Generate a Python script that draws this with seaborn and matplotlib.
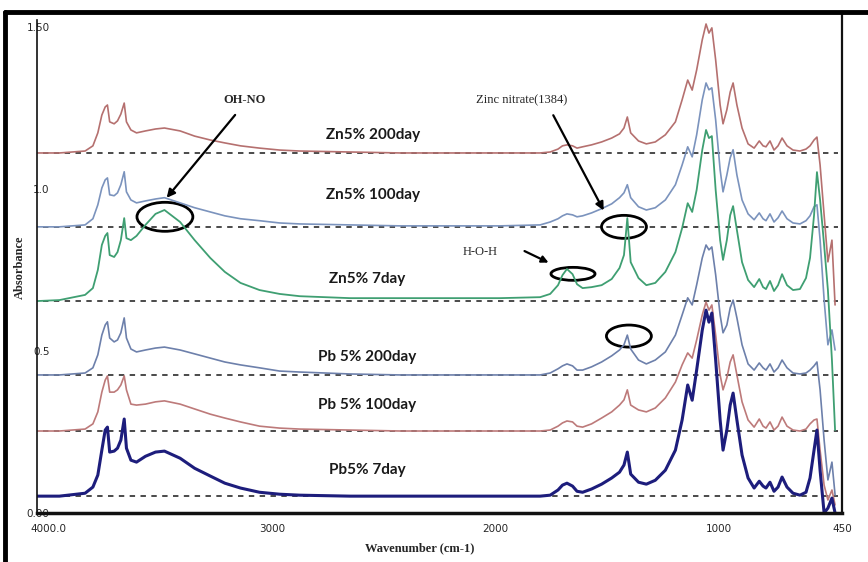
import numpy as np
import pandas as pd
import matplotlib
matplotlib.use('Agg')
import matplotlib.pyplot as plt
from matplotlib.patches import Ellipse
from matplotlib.lines import Line2D
import seaborn as sns

# Wavenumber grid (cm-1) shared by all spectra
wavenumber = [4050, 3950, 3835, 3800, 3778, 3760, 3745, 3735, 3725, 3705,
              3690, 3675, 3660, 3650, 3630, 3605, 3565, 3520, 3480, 3410,
              3345, 3275, 3210, 3140, 3055, 2965, 2875, 2650, 2425, 2200,
              1980, 1800, 1755, 1720, 1700, 1680, 1655, 1635, 1610, 1570,
              1525, 1480, 1445, 1425, 1410, 1395, 1360, 1325, 1285, 1240,
              1195, 1165, 1140, 1120, 1100, 1075, 1058, 1045, 1032, 1015,
              995, 982, 965, 950, 937, 920, 897, 870, 843, 820,
              803, 790, 772, 754, 736, 718, 696, 669, 638, 611,
              593, 575, 562, 548, 530, 513, 495, 481]

samples = ['Zn5% 200day', 'Zn5% 100day', 'Zn5% 7day',
           'Pb 5% 200day', 'Pb 5% 100day', 'Pb5% 7day']

# vertical offset of each stacked spectrum (dashed baselines)
offsets = [1.111, 0.883, 0.654, 0.426, 0.253, 0.052]

# absorbance above baseline
zn_200 = [0, 0, .006, .022, .062, .117, .142, .148, .096, .090,
          .099, .120, .154, .096, .071, .062, .068, .074, .077, .068,
          .052, .040, .031, .022, .015, .009, .006, .003, 0, 0,
          0, 0, .003, .012, .022, .025, .022, .015, .019, .025,
          .034, .046, .059, .077, .111, .062, .037, .028, .034, .056,
          .096, .164, .225, .194, .256, .349, .398, .370, .386, .287,
          .148, .090, .133, .188, .216, .148, .077, .028, .015, .037,
          .022, .019, .037, .009, .022, .046, .022, .009, .006, .012,
          .022, .040, .049, -.037, -.191, -.336, -.269, -.469]

zn_100 = [0, 0, .006, .025, .068, .120, .145, .151, .099, .096,
          .105, .130, .170, .108, .083, .074, .080, .086, .090, .074,
          .059, .046, .034, .025, .019, .012, .009, .006, .003, .003,
          .003, .006, .015, .025, .034, .040, .037, .031, .034, .043,
          .056, .071, .090, .105, .130, .090, .062, .052, .059, .083,
          .130, .191, .247, .216, .284, .392, .444, .423, .429, .330,
          .176, .108, .160, .213, .238, .160, .083, .040, .022, .043,
          .025, .019, .040, .015, .028, .049, .025, .012, .009, .019,
          .034, .062, .068, -.040, -.225, -.364, -.318, -.380]

zn_7 = [0, .003, .019, .040, .096, .173, .201, .210, .142, .136,
        .151, .188, .256, .194, .188, .201, .235, .269, .281, .244,
        .188, .133, .090, .056, .034, .022, .015, .009, .009, .009,
        .009, .012, .022, .049, .080, .099, .083, .052, .040, .043,
        .049, .068, .102, .142, .256, .120, .071, .049, .056, .090,
        .151, .225, .302, .275, .343, .466, .528, .503, .509, .343,
        .188, .127, .188, .265, .293, .219, .120, .065, .043, .068,
        .043, .037, .062, .031, .049, .083, .049, .034, .037, .071,
        .133, .265, .398, .312, .173, .034, -.182, -.398]

pb_200 = [0, 0, .006, .022, .062, .123, .154, .164, .114, .102,
          .108, .130, .176, .114, .080, .071, .077, .083, .086, .077,
          .065, .052, .040, .031, .022, .012, .009, .003, 0, 0,
          0, 0, .006, .019, .028, .034, .028, .015, .015, .025,
          .040, .059, .077, .093, .123, .080, .046, .034, .046, .071,
          .123, .185, .238, .216, .278, .361, .401, .386, .395, .309,
          .185, .130, .154, .207, .231, .176, .093, .034, .015, .037,
          .022, .015, .034, .009, .022, .046, .022, .006, .003, .006,
          .015, .028, .040, -.046, -.201, -.324, -.269, -.370]

pb_100 = [0, 0, .006, .022, .059, .120, .157, .170, .120, .120,
          .127, .142, .170, .127, .083, .080, .083, .090, .093, .083,
          .068, .052, .040, .028, .015, .009, .006, .003, 0, 0,
          0, 0, .003, .015, .025, .031, .028, .015, .012, .022,
          .040, .059, .080, .096, .127, .080, .065, .059, .071, .102,
          .151, .204, .241, .225, .281, .358, .398, .373, .389, .296,
          .173, .127, .164, .213, .235, .173, .090, .034, .012, .037,
          .015, .009, .028, .003, .015, .043, .015, .003, 0, .006,
          .022, .034, .037, -.059, -.167, -.213, -.182, -.228]

pb_7 = [0, 0, .009, .028, .065, .142, .204, .213, .136, .139,
        .148, .173, .238, .148, .111, .105, .123, .136, .139, .117,
        .086, .062, .040, .025, .012, .006, .003, 0, 0, 0,
        0, 0, .003, .019, .034, .040, .031, .015, .012, .022,
        .037, .056, .074, .096, .136, .068, .043, .037, .049, .080,
        .142, .235, .343, .296, .389, .512, .574, .537, .565, .420,
        .235, .142, .204, .281, .318, .235, .127, .056, .025, .046,
        .031, .025, .043, .015, .028, .059, .028, .009, .003, .012,
        .056, .142, .204, .080, -.052, -.037, -.006, -.052]

spectra = [zn_200, zn_100, zn_7, pb_200, pb_100, pb_7]

sns.set_style('white')
plt.rcParams['font.family'] = ['DejaVu Sans']

colors = ['#b5706f', '#7b93bd', '#3f9f72', '#6d80ab', '#bd7a7a', '#1d1d7c']
widths = [1.2, 1.2, 1.3, 1.2, 1.2, 2.2]

fig = plt.figure(figsize=(8.68, 5.62), dpi=100)
ax = fig.add_axes([37 / 868, 49 / 562, 805 / 868, 501 / 562])

for name, off, spec, col, lw in zip(samples, offsets, spectra, colors, widths):
    df = pd.DataFrame({'wavenumber': wavenumber,
                       'absorbance': np.array(spec) + off})
    sns.lineplot(data=df, x='wavenumber', y='absorbance', color=col,
                 linewidth=lw, estimator=None, ax=ax)
    ax.axhline(off, xmin=0.008, xmax=0.995, color='#3c3c3c', lw=1.3,
               ls=(0, (3, 3)), zorder=1)

ax.set_xlim(4050, 450)
ax.set_ylim(0, 1.546)

# sample labels
label_x = [2547, 2547, 2574, 2574, 2574, 2574]
label_y = [1.167, 0.981, 0.722, 0.481, 0.333, 0.133]
for name, lx, ly in zip(samples, label_x, label_y):
    ax.text(lx, ly, name, ha='center', va='center', fontsize=11,
            fontweight='bold', family='Lato', color='#1a1a1a')

# annotations
serif = 'Liberation Serif'
ax.annotate('', xy=(3478, 0.966), xytext=(3156, 1.235),
            arrowprops=dict(arrowstyle='-|>', color='black', lw=1.6,
                            mutation_scale=12))
ax.text(3120, 1.275, 'OH-NO', ha='center', va='center', fontsize=9,
        fontweight='bold', family=serif)
ax.add_patch(Ellipse((3478, 0.914), 250, 0.0895, fill=False, lw=2, color='black'))

ax.annotate('', xy=(1510, 0.926), xytext=(1747, 1.235),
            arrowprops=dict(arrowstyle='-|>', color='black', lw=1.6,
                            mutation_scale=12))
ax.text(1881, 1.275, 'Zinc nitrate(1384)', ha='center', va='center',
        fontsize=9, family=serif)
ax.add_patch(Ellipse((1425, 0.883), 201, 0.071, fill=False, lw=2, color='black'))

ax.annotate('', xy=(1751, 0.769), xytext=(1881, 0.812),
            arrowprops=dict(arrowstyle='-|>', color='black', lw=1.6,
                            mutation_scale=10))
ax.text(2069, 0.806, 'H-O-H', ha='center', va='center', fontsize=9,
        family=serif)
ax.add_patch(Ellipse((1653, 0.738), 197, 0.040, fill=False, lw=2, color='black'))

ax.add_patch(Ellipse((1403, 0.546), 201, 0.068, fill=False, lw=2, color='black'))

# axes styling
ax.set_xticks([4000, 3000, 2000, 1000, 450])
ax.set_xticklabels(['4000.0', '3000', '2000', '1000', '450'])
ax.set_yticks([0, 0.5, 1.0, 1.5])
ax.set_yticklabels(['0.00', '0.5', '1.0', '1.50'])
ax.tick_params(axis='x', direction='out', length=3, width=1, pad=5,
               labelsize=7.5, color='#333333')
ax.tick_params(axis='y', length=0, pad=-9, labelsize=7.5)
ax.set_xlabel('Wavenumber (cm-1)', fontsize=9, fontweight='bold',
              family=serif)
ax.set_ylabel('Absorbance', fontsize=9, fontweight='bold', family=serif)
ax.xaxis.set_label_coords(0.475, -0.058)
ax.yaxis.set_label_coords(-0.014, 0.49)

ax.spines['top'].set_visible(False)
ax.spines['left'].set_linewidth(1.2)
ax.spines['left'].set_bounds(0, 1.52)
ax.spines['bottom'].set_linewidth(2.5)
ax.spines['right'].set_linewidth(1.6)
for s in ax.spines.values():
    s.set_color('#111111')

# outer frame
fig.add_artist(Line2D([5 / 868, 5 / 868], [0, 1 - 12 / 562], color='black', lw=3.5,
                      transform=fig.transFigure))
fig.add_artist(Line2D([5 / 868, 1], [1 - 12 / 562, 1 - 12 / 562], color='black', lw=3.5,
                      transform=fig.transFigure))

fig.savefig('out.png', dpi=100, facecolor='white')
